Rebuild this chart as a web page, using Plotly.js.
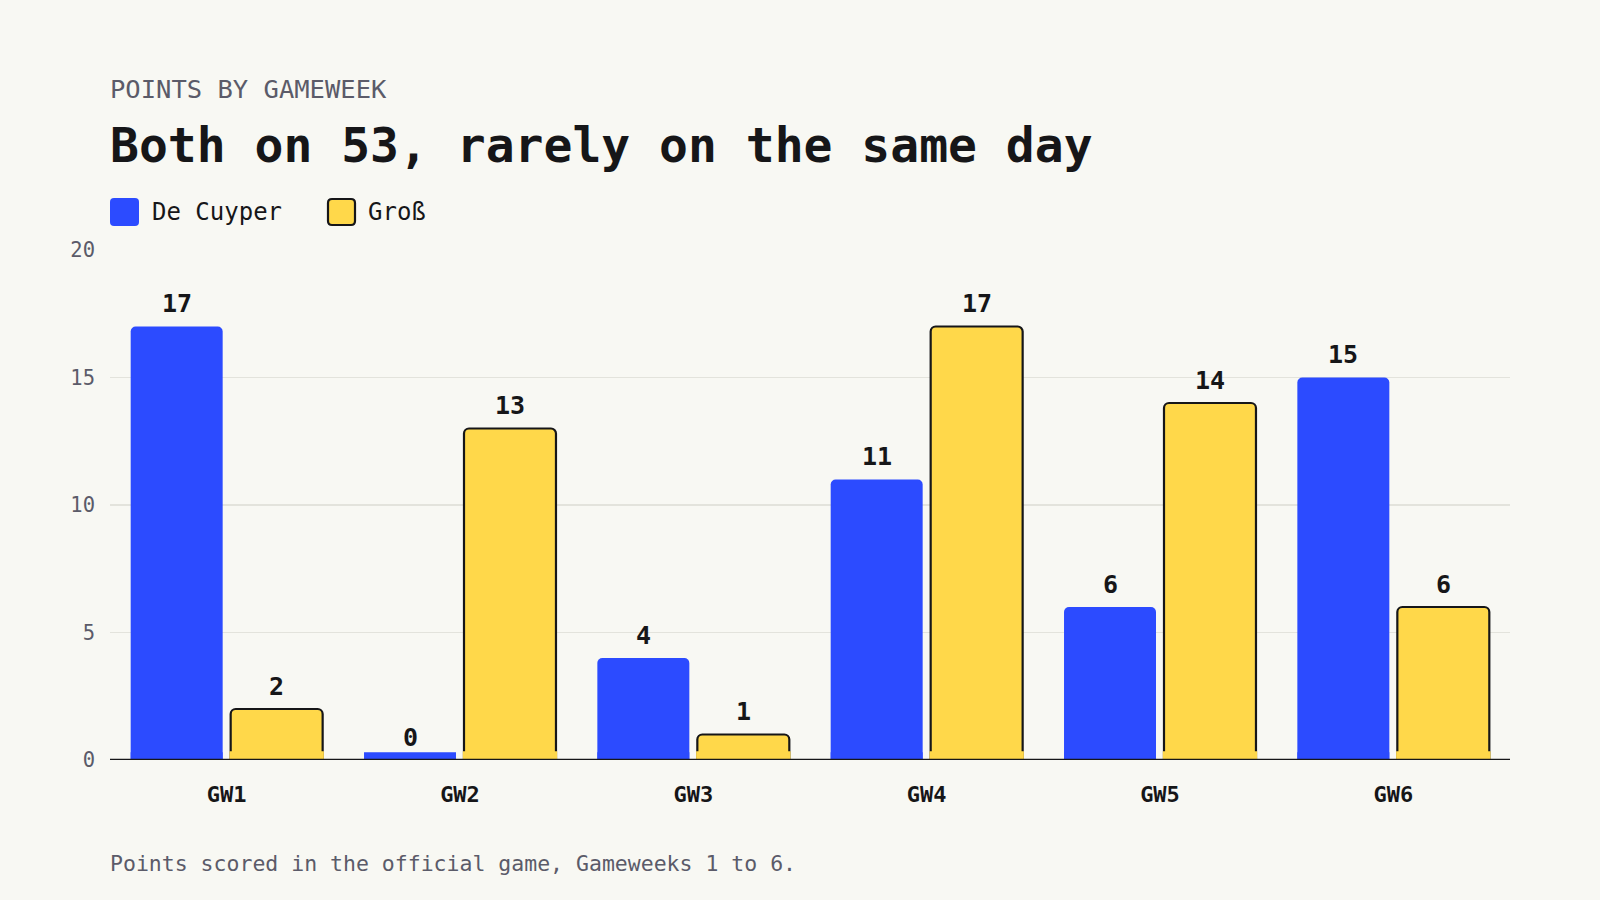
<!DOCTYPE html>
<html>
<head>
<meta charset="utf-8">
<script src="https://cdn.plot.ly/plotly-3.0.1.min.js"></script>
<style>
  html, body { margin: 0; padding: 0; background: #f8f8f3; }
  #chart { width: 1600px; height: 900px; }
</style>
</head>
<body>
<div id="chart"></div>
<script>
// Gameweek points for the two players
const gameweeks = ["GW1", "GW2", "GW3", "GW4", "GW5", "GW6"];
const deCuyper = [17, 0, 4, 11, 6, 15];
const gross = [2, 13, 1, 17, 14, 6];
const seriesNames = ["De Cuyper", "Groß"];
const yTicks = [0, 5, 10, 15, 20];

const kicker = "POINTS BY GAMEWEEK";
const headline = "Both on 53, rarely on the same day";
const footnote = "Points scored in the official game, Gameweeks 1 to 6.";

// Style
const BG = "#f8f8f3";
const BLUE = "#2c4bff";
const YELLOW = "#ffd84a";
const INK = "#161618";
const MUTED = "#5b5b69";
const GRID = "#e3e3dc";
const FONT = "DejaVu Sans Mono, monospace";

// Plot box (pixels)
const M = { l: 110, r: 90, t: 250, b: 140 };
const W = 1600, H = 900;
const plotW = W - M.l - M.r;
const plotH = H - M.t - M.b;
const px2x = p => (p - M.l) / plotW;
const py2y = p => (H - M.b - p) / plotH;

const BARGAP = 0.143, BARGROUPGAP = 0.08;
// Small foot drawn under every bar so zero values stay visible
const FOOT = 0.3;

const catW = plotW / gameweeks.length;
const slotW = catW * (1 - BARGAP) / 2;

const traces = [
  {
    type: "bar", name: seriesNames[0], x: gameweeks, y: deCuyper,
    offsetgroup: "a", marker: { color: BLUE, cornerradius: 5, line: { width: 0 } },
    hoverinfo: "x+y+name", showlegend: false
  },
  {
    type: "bar", name: seriesNames[1], x: gameweeks, y: gross,
    offsetgroup: "b", marker: { color: YELLOW, cornerradius: 5, line: { color: INK, width: 2.2 } },
    hoverinfo: "x+y+name", showlegend: false
  },
  {
    type: "bar", name: seriesNames[0], x: gameweeks, y: deCuyper.map(() => FOOT),
    offsetgroup: "a", marker: { color: BLUE, line: { width: 0 } },
    hoverinfo: "skip", showlegend: false
  },
  {
    type: "bar", name: seriesNames[1], x: gameweeks, y: gross.map(v => Math.min(v, FOOT)),
    offsetgroup: "b", marker: { color: YELLOW, line: { color: YELLOW, width: 2.4 } },
    hoverinfo: "skip", showlegend: false
  }
];

const annotations = [];

// Value labels above each bar
[deCuyper, gross].forEach((vals, s) => {
  const shift = (s === 0 ? -1 : 1) * slotW / 2;
  vals.forEach((v, j) => {
    annotations.push({
      xref: "x", yref: "y", x: gameweeks[j], y: v,
      xshift: shift, yshift: 23, yanchor: "middle", xanchor: "center",
      text: String(v), showarrow: false,
      font: { family: FONT, size: 25, color: INK, weight: "bold" }
    });
  });
});

// Kicker, headline, footnote
annotations.push(
  { xref: "paper", yref: "paper", x: px2x(108), y: py2y(89), xanchor: "left", yanchor: "middle",
    text: kicker, showarrow: false, font: { family: FONT, size: 25.5, color: MUTED } },
  { xref: "paper", yref: "paper", x: px2x(108), y: py2y(145), xanchor: "left", yanchor: "middle",
    text: headline, showarrow: false, font: { family: FONT, size: 48, color: INK, weight: "bold" } },
  { xref: "paper", yref: "paper", x: px2x(108), y: py2y(863), xanchor: "left", yanchor: "middle",
    text: footnote, showarrow: false, font: { family: FONT, size: 21.5, color: MUTED } }
);

// Legend labels
const legendY = py2y(212);
annotations.push(
  { xref: "paper", yref: "paper", x: px2x(150), y: legendY, xanchor: "left", yanchor: "middle",
    text: seriesNames[0], showarrow: false, font: { family: FONT, size: 24, color: INK } },
  { xref: "paper", yref: "paper", x: px2x(366), y: legendY, xanchor: "left", yanchor: "middle",
    text: seriesNames[1], showarrow: false, font: { family: FONT, size: 24, color: INK } }
);

// Rounded square path in pixel units, vertically centred on the anchor
function roundedSquare(w, h, r) {
  const t = h / 2, b = -h / 2;
  return `M ${r},${t} L ${w - r},${t} Q ${w},${t} ${w},${t - r} L ${w},${b + r} Q ${w},${b} ${w - r},${b} ` +
         `L ${r},${b} Q 0,${b} 0,${b + r} L 0,${t - r} Q 0,${t} ${r},${t} Z`;
}

const shapes = [
  { type: "path", xref: "paper", yref: "paper", xsizemode: "pixel", ysizemode: "pixel",
    xanchor: px2x(110), yanchor: legendY, path: roundedSquare(29, 28, 4),
    fillcolor: BLUE, line: { width: 0 } },
  { type: "path", xref: "paper", yref: "paper", xsizemode: "pixel", ysizemode: "pixel",
    xanchor: px2x(328), yanchor: legendY, path: roundedSquare(27, 26, 4),
    fillcolor: YELLOW, line: { color: INK, width: 2.2 } },
  // Baseline
  { type: "line", xref: "paper", yref: "y", x0: 0, x1: 1, y0: 0, y1: 0,
    line: { color: INK, width: 2.6 }, layer: "above" }
];

const layout = {
  width: W, height: H,
  paper_bgcolor: BG, plot_bgcolor: BG,
  margin: M,
  barmode: "group", bargap: BARGAP, bargroupgap: BARGROUPGAP,
  showlegend: false,
  font: { family: FONT, color: INK },
  xaxis: {
    type: "category", showgrid: false, zeroline: false, showline: false, ticks: "",
    tickfont: { family: FONT, size: 22, color: INK, weight: "bold" },
    ticklabelstandoff: 19, fixedrange: true
  },
  yaxis: {
    range: [0, 20], tickvals: yTicks, ticktext: yTicks.map(String),
    showgrid: true, gridcolor: GRID, gridwidth: 1.8, zeroline: false, showline: false, ticks: "",
    tickfont: { family: FONT, size: 20.5, color: MUTED },
    ticklabelstandoff: 14, fixedrange: true
  },
  annotations: annotations,
  shapes: shapes
};

Plotly.newPlot("chart", traces, layout, { displayModeBar: false, staticPlot: true });
</script>
</body>
</html>
